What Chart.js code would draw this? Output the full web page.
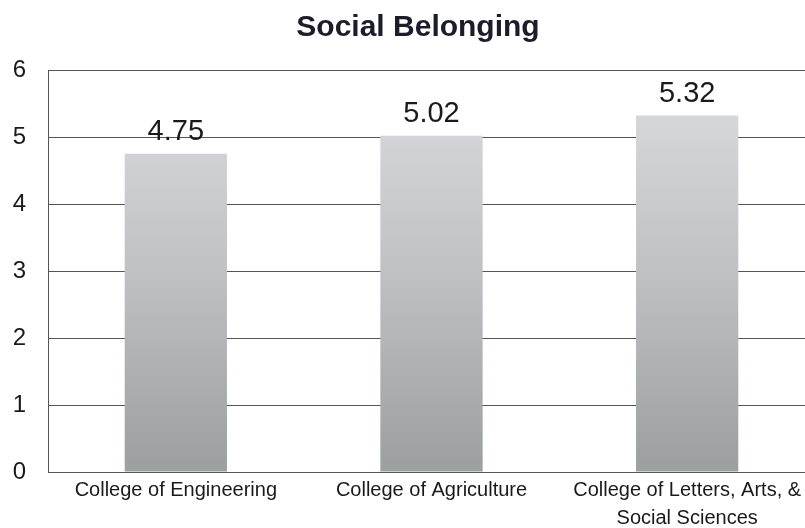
<!DOCTYPE html>
<html>
<head>
<meta charset="utf-8">
<title>Social Belonging</title>
<script src="https://cdn.jsdelivr.net/npm/chart.js@4"></script>
<style>
  html, body { margin: 0; padding: 0; background: #fff; overflow: hidden; }
  #wrap { width: 830px; height: 536px; }
</style>
</head>
<body>
<div id="wrap"><canvas id="chart" width="830" height="536"></canvas></div>
<script>
const chartTitle = 'Social Belonging';
const colleges = [
  'College of Engineering',
  'College of Agriculture',
  ['College of Letters, Arts, &', 'Social Sciences']
];
const belongingScores = [4.75, 5.02, 5.32];
const yTicks = [0, 1, 2, 3, 4, 5, 6];

const FONT = '"Liberation Sans", Arial, sans-serif';

// gray fade from the top of the plot to the baseline
function barFill(context) {
  const { ctx, chartArea } = context.chart;
  if (!chartArea) return '#c0c2c4';
  const g = ctx.createLinearGradient(0, chartArea.top, 0, chartArea.bottom);
  g.addColorStop(0, '#dcdde1');
  g.addColorStop(0.5, '#bfc1c4');
  g.addColorStop(1, '#9c9f9f');
  return g;
}

const titlePlugin = {
  id: 'centerTitle',
  afterDraw(chart) {
    const ctx = chart.ctx;
    ctx.save();
    ctx.font = 'bold 30px ' + FONT;
    ctx.fillStyle = '#1c1c2a';
    ctx.textAlign = 'center';
    ctx.textBaseline = 'alphabetic';
    ctx.fillText(chartTitle, 418, 36);
    ctx.restore();
  }
};

const valueLabels = {
  id: 'valueLabels',
  afterDatasetsDraw(chart) {
    const ctx = chart.ctx;
    const meta = chart.getDatasetMeta(0);
    const yScale = chart.scales.y;
    ctx.save();
    ctx.font = '29px ' + FONT;
    ctx.fillStyle = '#1a1a1a';
    ctx.textAlign = 'center';
    ctx.textBaseline = 'alphabetic';
    belongingScores.forEach((v, i) => {
      const x = meta.data[i].x;
      const y = yScale.getPixelForValue(v) - 14;
      ctx.fillText(v.toFixed(2), x, y);
    });
    ctx.restore();
  }
};

new Chart(document.getElementById('chart'), {
  type: 'bar',
  data: {
    labels: colleges,
    datasets: [{
      data: belongingScores,
      backgroundColor: barFill,
      borderWidth: 0,
      barPercentage: 0.4,
      categoryPercentage: 1
    }]
  },
  options: {
    responsive: false,
    animation: false,
    layout: { padding: { top: 70, left: 10, right: 15, bottom: 0 } },
    plugins: {
      legend: { display: false },
      title: { display: false },
      tooltip: { enabled: false }
    },
    scales: {
      x: {
        grid: { display: false, drawTicks: false },
        border: { display: true, color: '#555', width: 1 },
        ticks: {
          color: '#1a1a1a',
          font: { family: FONT, size: 20, lineHeight: 1.4 },
          padding: 4,
          maxRotation: 0,
          autoSkip: false
        }
      },
      y: {
        min: 0,
        max: 6,
        afterBuildTicks(axis) {
          axis.ticks = yTicks.map(v => ({ value: v }));
        },
        afterFit(axis) {
          axis.width = 38;
        },
        grid: { color: '#555', lineWidth: 1, drawTicks: false },
        border: { display: true, color: '#555', width: 1 },
        ticks: {
          color: '#1a1a1a',
          font: { family: FONT, size: 24 },
          padding: 22
        }
      }
    }
  },
  plugins: [titlePlugin, valueLabels]
});
</script>
</body>
</html>
